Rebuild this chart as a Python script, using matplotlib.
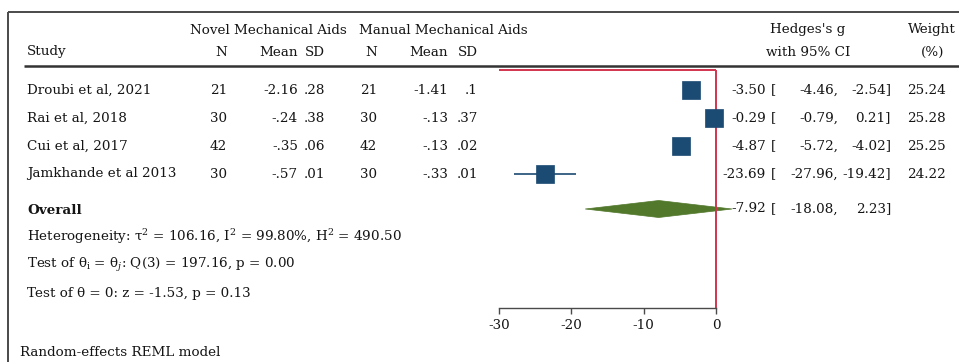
import matplotlib
matplotlib.use("Agg")
import matplotlib.pyplot as plt
from matplotlib.patches import Polygon
from matplotlib.ticker import FuncFormatter

# ---- study data -------------------------------------------------------------
studies = ["Droubi et al, 2021", "Rai et al, 2018", "Cui et al, 2017",
           "Jamkhande et al 2013"]
novel_n = [21, 30, 42, 30]
novel_mean = [-2.16, -0.24, -0.35, -0.57]
novel_sd = [0.28, 0.38, 0.06, 0.01]
manual_n = [21, 30, 42, 30]
manual_mean = [-1.41, -0.13, -0.13, -0.33]
manual_sd = [0.1, 0.37, 0.02, 0.01]
hedges_g = [-3.50, -0.29, -4.87, -23.69]
ci_low = [-4.46, -0.79, -5.72, -27.96]
ci_high = [-2.54, 0.21, -4.02, -19.42]
weights = [25.24, 25.28, 25.25, 24.22]
overall_g = -7.92
overall_low = -18.08
overall_high = 2.23
xticks = [-30, -20, -10, 0]

heterogeneity = r"Heterogeneity: τ$^{2}$ = 106.16, I$^{2}$ = 99.80%, H$^{2}$ = 490.50"
test_between = r"Test of θ$_{\mathrm{i}}$ = θ$_{j}$: Q(3) = 197.16, p = 0.00"
test_zero = "Test of θ = 0: z = -1.53, p = 0.13"
model_note = "Random-effects REML model"

# ---- style ------------------------------------------------------------------
FONT = "DejaVu Serif"
plt.rcParams["font.family"] = [FONT]
plt.rcParams["mathtext.fontset"] = "custom"
plt.rcParams["mathtext.rm"] = FONT
plt.rcParams["mathtext.it"] = FONT + ":italic"
plt.rcParams["axes.unicode_minus"] = False
FS = 9.7
TXT = "#151515"
FRAME = "#4a4a4a"
SQUARE = "#1b4a72"
DIAMOND = "#52782c"
ZERO = "#d2344e"


def stata_num(v):
    s = "%g" % v
    return s.replace("-0.", "-.") if s.startswith("-0.") else (
        s[1:] if s.startswith("0.") else s)


W, H = 959, 362
fig = plt.figure(figsize=(W / 100, H / 100), dpi=100)

# overlay in pixel coordinates for the table text and frame
lay = fig.add_axes([0, 0, 1, 1])
lay.set_xlim(0, W)
lay.set_ylim(H, 0)
lay.axis("off")

# outer frame (top and left) and header rule
lay.plot([8, W], [12, 12], color=FRAME, lw=1.4, solid_capstyle="butt")
lay.plot([8, 8], [12, H], color=FRAME, lw=1.4, solid_capstyle="butt")
lay.plot([24, W], [66, 66], color="#333333", lw=1.8, solid_capstyle="butt")

def put(x, y, s, ha="left", **kw):
    lay.text(x, y, s, ha=ha, va="center", fontsize=FS, color=TXT, **kw)

# header
put(268, 30, "Novel Mechanical Aids", ha="center")
put(443, 30, "Manual Mechanical Aids", ha="center")
put(808, 30, "Hedges's g", ha="center")
put(808, 52, "with 95% CI", ha="center")
put(932, 30, "Weight", ha="center")
put(933, 52, "(%)", ha="center")
put(27, 52, "Study")
for x, s in [(227, "N"), (298, "Mean"), (325, "SD"),
             (377, "N"), (448, "Mean"), (478, "SD")]:
    put(x, 52, s, ha="right")

row_y = [90, 118, 146, 174]
overall_y = 209

for i, y in enumerate(row_y):
    put(27, y, studies[i])
    put(227, y, str(novel_n[i]), ha="right")
    put(298, y, stata_num(novel_mean[i]), ha="right")
    put(325, y, stata_num(novel_sd[i]), ha="right")
    put(377, y, str(manual_n[i]), ha="right")
    put(448, y, stata_num(manual_mean[i]), ha="right")
    put(478, y, stata_num(manual_sd[i]), ha="right")
    put(766, y, f"{hedges_g[i]:.2f}", ha="right")
    put(771, y, "[")
    put(838, y, f"{ci_low[i]:.2f},", ha="right")
    put(891, y, f"{ci_high[i]:.2f}]", ha="right")
    put(946, y, f"{weights[i]:.2f}", ha="right")

put(27, 210, "Overall", fontweight="bold")
put(766, overall_y, f"{overall_g:.2f}", ha="right")
put(771, overall_y, "[")
put(838, overall_y, f"{overall_low:.2f},", ha="right")
put(891, overall_y, f"{overall_high:.2f}]", ha="right")
put(27, 237, heterogeneity)
put(27, 265, test_between)
put(27, 293, test_zero)
put(20, 352, model_note)

# ---- forest panel -------------------------------------------------------------
px_per_unit = (716 - 499) / 30.0
x_left_px, x_right_px = 480, 745
y_top_px, y_axis_px = 66, 308
ax = fig.add_axes([x_left_px / W, (H - y_axis_px) / H,
                   (x_right_px - x_left_px) / W, (y_axis_px - y_top_px) / H])
ax.set_xlim(-30 - (499 - x_left_px) / px_per_unit,
            (x_right_px - 716) / px_per_unit)
ax.set_ylim(y_axis_px, y_top_px)
ax.patch.set_alpha(0)
for side in ("top", "right", "left"):
    ax.spines[side].set_visible(False)
ax.spines["bottom"].set_bounds(xticks[0], xticks[-1])
ax.spines["bottom"].set_color(FRAME)
ax.spines["bottom"].set_linewidth(1.0)
ax.set_yticks([])
ax.set_xticks(xticks)
ax.xaxis.set_major_formatter(FuncFormatter(lambda v, _: "%d" % v))
ax.tick_params(axis="x", direction="out", length=4, width=1.0, color=FRAME,
               labelsize=FS, labelcolor=TXT, pad=4)

# overall diamond
half_h = 8.5
ax.add_patch(Polygon([(overall_low, overall_y), (overall_g, overall_y - half_h),
                      (overall_high, overall_y), (overall_g, overall_y + half_h)],
                     closed=True, facecolor=DIAMOND, edgecolor=DIAMOND, lw=0.5,
                     zorder=1))

# line of no effect
ax.plot([0, 0], [y_axis_px, 70], color=ZERO, lw=1.4, zorder=2,
        solid_capstyle="butt")
ax.plot([xticks[0], 0], [70, 70], color=ZERO, lw=1.4, zorder=2,
        solid_capstyle="butt")

# study estimates with confidence intervals
ax.hlines(row_y, ci_low, ci_high, color=SQUARE, lw=1.2, zorder=3)
ax.plot(hedges_g, row_y, "s", ms=13, color=SQUARE, mec=SQUARE, mew=0.5,
        zorder=4, clip_on=False)

fig.savefig("out.png", dpi=100)
